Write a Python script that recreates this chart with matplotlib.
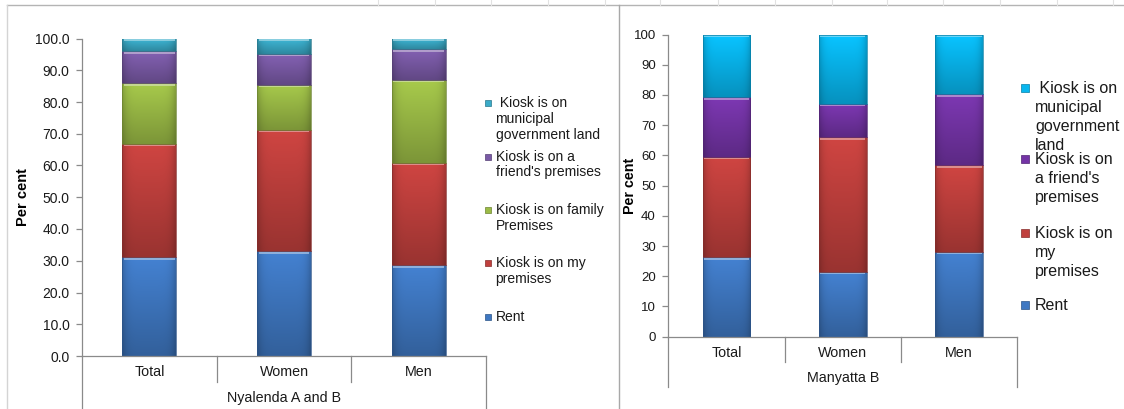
import numpy as np
import matplotlib
matplotlib.use('Agg')
import matplotlib.pyplot as plt
from matplotlib.colors import to_rgb
from matplotlib.patches import Rectangle
from matplotlib.lines import Line2D
import matplotlib.transforms as mtransforms

plt.rcParams['font.family'] = ['Liberation Sans', 'DejaVu Sans']

# ---------------- data ----------------
categories = ['Total', 'Women', 'Men']

left_group = 'Nyalenda A and B'
left_rent = [31.1, 33.1, 28.6]
left_my = [35.8, 38.2, 32.3]
left_family = [19.1, 14.2, 26.1]
left_friend = [10.0, 9.7, 9.7]
left_municipal = [4.0, 4.8, 3.3]
left_labels = ['Rent', 'Kiosk is on my\npremises', 'Kiosk is on family\nPremises',
               "Kiosk is on a\nfriend's premises", ' Kiosk is on\nmunicipal\ngovernment land']

right_group = 'Manyatta B'
right_rent = [26.3, 21.5, 28.1]
right_my = [33.2, 44.5, 28.6]
right_friend = [19.8, 11.1, 23.6]
right_municipal = [20.7, 22.9, 19.7]
right_labels = ['Rent', 'Kiosk is on\nmy\npremises', "Kiosk is on\na friend's\npremises",
                ' Kiosk is on\nmunicipal\ngovernment\nland']

# ---------------- styles ----------------
BLUE = '#3f78c2'
RED = '#c0403d'
GREEN = '#9bbb46'
PURPLE_L = '#7a5aa6'
CYAN_L = '#3aabc8'
PURPLE_R = '#7434a6'
CYAN_R = '#08b6ee'

W, H = 1124, 409
fig = plt.figure(figsize=(W / 100, H / 100), dpi=100)


def ax_rect(x0, x1, ytop, ybot):
    return [x0 / W, 1 - ybot / H, (x1 - x0) / W, (ybot - ytop) / H]


def fig_xy(x, y):
    return x / W, 1 - y / H


def shade(ax, patch, color, px_unit):
    x0, y0 = patch.get_x(), patch.get_y()
    w, h = patch.get_width(), patch.get_height()
    rgb = np.array(to_rgb(color))
    t = np.linspace(0, 1, 64)
    s = np.linspace(0, 1, 32)
    f = 0.80 + 0.28 * t
    g = 1 - 0.18 * np.abs(2 * s - 1) ** 6
    img = rgb[None, None, :] * f[:, None, None] * g[None, :, None]
    img = np.clip(img, 0, 1)
    ax.imshow(img, extent=(x0, x0 + w, y0, y0 + h), origin='lower', aspect='auto',
              zorder=2.1, interpolation='bilinear')
    bev = 2.6 * px_unit
    light = np.clip(rgb * 0.5 + 0.5, 0, 1)
    ax.add_patch(Rectangle((x0 + 0.012, y0 + h - bev), w - 0.024, bev, facecolor=light,
                           edgecolor='none', zorder=2.2, alpha=0.8))
    ax.add_patch(Rectangle((x0, y0), w, h, facecolor='none', edgecolor=(rgb * 0.7),
                           lw=0.5, zorder=2.3))


def panel(ax, series, colors, bar_w, fmt, tick_fs, axh_px, inner_bot, outer_bot,
          cat_y, grp_y, group, ylab_x, ylab_fs):
    x = np.arange(len(categories))
    bottom = np.zeros(len(categories))
    px_unit = 100.0 / axh_px
    for vals, col in zip(series, colors):
        bars = ax.bar(x, vals, bar_w, bottom=bottom, color=col, edgecolor='none', zorder=2)
        for p in bars:
            shade(ax, p, col, px_unit)
        bottom += np.array(vals)
    ax.set_xlim(-0.5, len(categories) - 0.5)
    ax.set_ylim(0, 100)
    ax.set_yticks(np.arange(0, 101, 10))
    ax.set_yticklabels([fmt.format(v) for v in np.arange(0, 101, 10)], fontsize=tick_fs,
                       color='#1a1a1a')
    ax.set_xticks([])
    for sp in ['top', 'right']:
        ax.spines[sp].set_visible(False)
    for sp in ['left', 'bottom']:
        ax.spines[sp].set_color('#8a8a8a')
        ax.spines[sp].set_linewidth(0.9)
    ax.tick_params(axis='y', length=4, width=0.9, color='#8a8a8a', pad=5)
    ax.set_facecolor('none')
    tr = mtransforms.blended_transform_factory(ax.transData, ax.transAxes)
    n = len(categories)
    for b in np.arange(-0.5, n, 1.0):
        yb = outer_bot if b in (-0.5, n - 0.5) else inner_bot
        ax.add_line(Line2D([b, b], [0, yb], transform=tr, color='#8a8a8a', lw=0.9,
                           clip_on=False))
    for i, c in enumerate(categories):
        ax.text(i, cat_y, c, transform=tr, ha='center', va='center', fontsize=10.3,
                color='#1a1a1a')
    ax.text((n - 1) / 2, grp_y, group, transform=tr, ha='center', va='center',
            fontsize=10.3, color='#1a1a1a')
    ax.set_ylabel('Per cent', fontweight='bold', fontsize=ylab_fs, color='#000000')
    ax.yaxis.set_label_coords(ylab_x, 0.5)


def legend(labels, colors, first_centers, x_marker, x_text, msize, spacing, fs):
    for lab, col, yc in zip(labels, colors, first_centers):
        rgb = np.array(to_rgb(col))
        mx, my = fig_xy(x_marker, yc + msize / 2)
        fig.add_artist(Rectangle((mx, my), msize / W, msize / H, transform=fig.transFigure,
                                 facecolor=col, edgecolor=rgb * 0.7, lw=0.5))
        for k, line in enumerate(lab.split('\n')):
            tx, ty = fig_xy(x_text, yc + k * spacing)
            fig.text(tx, ty, line, ha='left', va='center', fontsize=fs, color='#1a1a1a')


# ---------------- left panel ----------------
axL = fig.add_axes(ax_rect(82, 486, 38.5, 356))
panel(axL, [left_rent, left_my, left_family, left_friend, left_municipal],
      [BLUE, RED, GREEN, PURPLE_L, CYAN_L], 0.40, '{:.1f}', 10, 317.5,
      -0.081, -0.167, -0.050, -0.132, left_group, -0.128, 10.5)
legend(left_labels, [BLUE, RED, GREEN, PURPLE_L, CYAN_L],
       [316.7, 263.3, 210.0, 156.7, 103.3], 484.5, 495.5, 6, 15.6, 10)

# ---------------- right panel ----------------
axR = fig.add_axes(ax_rect(668.3, 1017.3, 34.5, 336.7))
panel(axR, [right_rent, right_my, right_friend, right_municipal],
      [BLUE, RED, PURPLE_R, CYAN_R], 0.41, '{:.0f}', 9.5, 302.2,
      -0.083, -0.167, -0.053, -0.138, right_group, -0.090, 10.3)
legend(right_labels, [BLUE, RED, PURPLE_R, CYAN_R],
       [305.0, 233.3, 159.3, 88.3], 1021.5, 1035, 8, 19.2, 11.5)

# ---------------- panel frames ----------------
def fline(xs, ys, color, lw=1.0):
    fx = [x / W for x in xs]
    fy = [1 - y / H for y in ys]
    fig.add_artist(Line2D(fx, fy, transform=fig.transFigure, color=color, lw=lw))

fline([7, W], [5, 5], '#b4b4b4')
fline([7, 7], [5, H], '#d4d4d4')
fline([619, 619], [5, H], '#a8a8a8')
for gx in [378, 435, 491, 548, 605, 660, 718, 775, 832, 887, 943, 1000, 1057, 1113]:
    fline([gx, gx], [0, 5], '#e2e2e2', 0.8)

fig.savefig('out.png', dpi=100)
